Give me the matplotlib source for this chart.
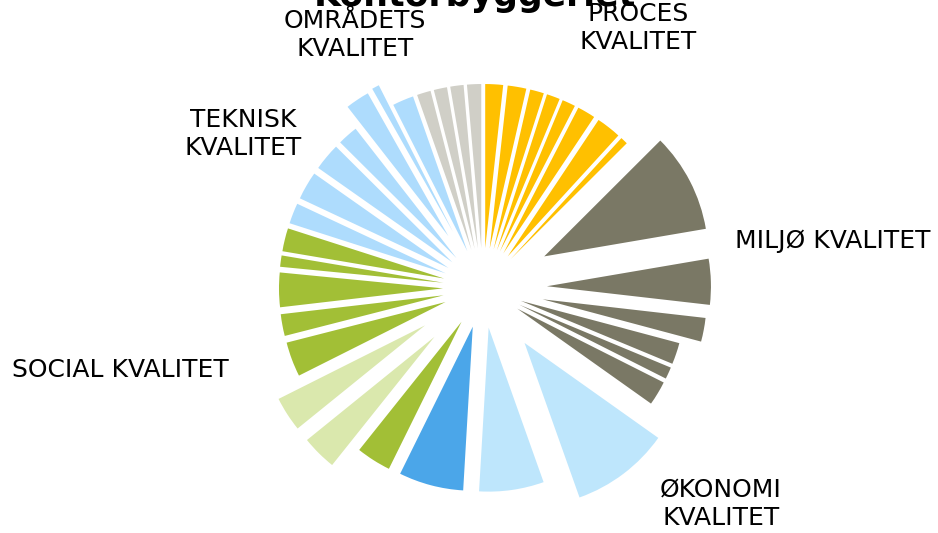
import numpy as np
import matplotlib
matplotlib.use("Agg")
import matplotlib.pyplot as plt

# slice shares per quality group, clockwise from 12 o'clock
proces = [6.3, 6.6, 4.9, 4.7, 4.7, 6.4, 8.8, 2.6]
miljo = [35.2, 16.2, 8.4, 7.6, 4.2, 8.6]
okonomi = [35.0, 22.9, 22.9]
social = [12.3, 12.4, 12.3, 12.3, 7.7, 12.2, 4.0, 8.2]
teknisk = [7.3, 10.0, 9.7, 7.2, 8.5, 2.6, 7.5]
omraadets = [4.9, 4.7, 4.7, 5.0]

labels = ["PROCES\nKVALITET", "MILJØ KVALITET", "ØKONOMI\nKVALITET",
          "SOCIAL KVALITET", "TEKNISK\nKVALITET", "OMRÅDETS\nKVALITET"]
title = "Kontorbyggeriet"

# colours
c_proc = "#FFC000"
c_milj = "#7A7865"
c_okl = "#BEE6FC"
c_okd = "#4BA6E9"
c_grn = "#A2BF36"
c_lgrn = "#DAE8AD"
c_tek = "#AEDCFD"
c_omr = "#D0CFC7"

values = proces + miljo + okonomi + social + teknisk + omraadets
colors = ([c_proc] * len(proces) + [c_milj] * len(miljo)
          + [c_okl, c_okl, c_okd]
          + [c_grn, c_lgrn, c_lgrn, c_grn, c_grn, c_grn, c_grn, c_grn]
          + [c_tek] * len(teknisk) + [c_omr] * len(omraadets))

base, big = 0.244, 0.42
explode = [base] * len(values)
for i in [8, 9, 10, 14, 18, 19, 29, 30]:
    explode[i] = big
explode[9] = 0.39
explode[10] = 0.37
explode[29] = 0.38
explode[30] = 0.39

W, H = 938, 533
cx, cy, R = 483, 288, 164

fig = plt.figure(figsize=(W / 100, H / 100), dpi=100)
ax = fig.add_axes([0, 0, 1, 1])
ax.pie(values, colors=colors, explode=explode, startangle=90, counterclock=False,
       radius=1.0, wedgeprops=dict(linewidth=0))
ax.set_aspect("equal", adjustable="datalim")
ax.set_xlim(-cx / R, (W - cx) / R)
ax.set_ylim(-(H - cy) / R, cy / R)
ax.axis("off")

fs = 18
ls = 1.24
def px(x, y):
    return x / W, 1 - y / H

fig.text(*px(475, 6), title, ha="center", va="baseline", fontsize=25, fontweight="bold")
fig.text(*px(638, 28), labels[0], ha="center", va="center", fontsize=fs, linespacing=ls)
fig.text(*px(735, 241), labels[1], ha="left", va="center", fontsize=fs)
fig.text(*px(721, 504), labels[2], ha="center", va="center", fontsize=fs, linespacing=ls)
fig.text(*px(120, 370), labels[3], ha="center", va="center", fontsize=fs)
fig.text(*px(243, 134), labels[4], ha="center", va="center", fontsize=fs, linespacing=ls)
fig.text(*px(355, 35), labels[5], ha="center", va="center", fontsize=fs, linespacing=ls)

fig.savefig("out.png", dpi=100)
